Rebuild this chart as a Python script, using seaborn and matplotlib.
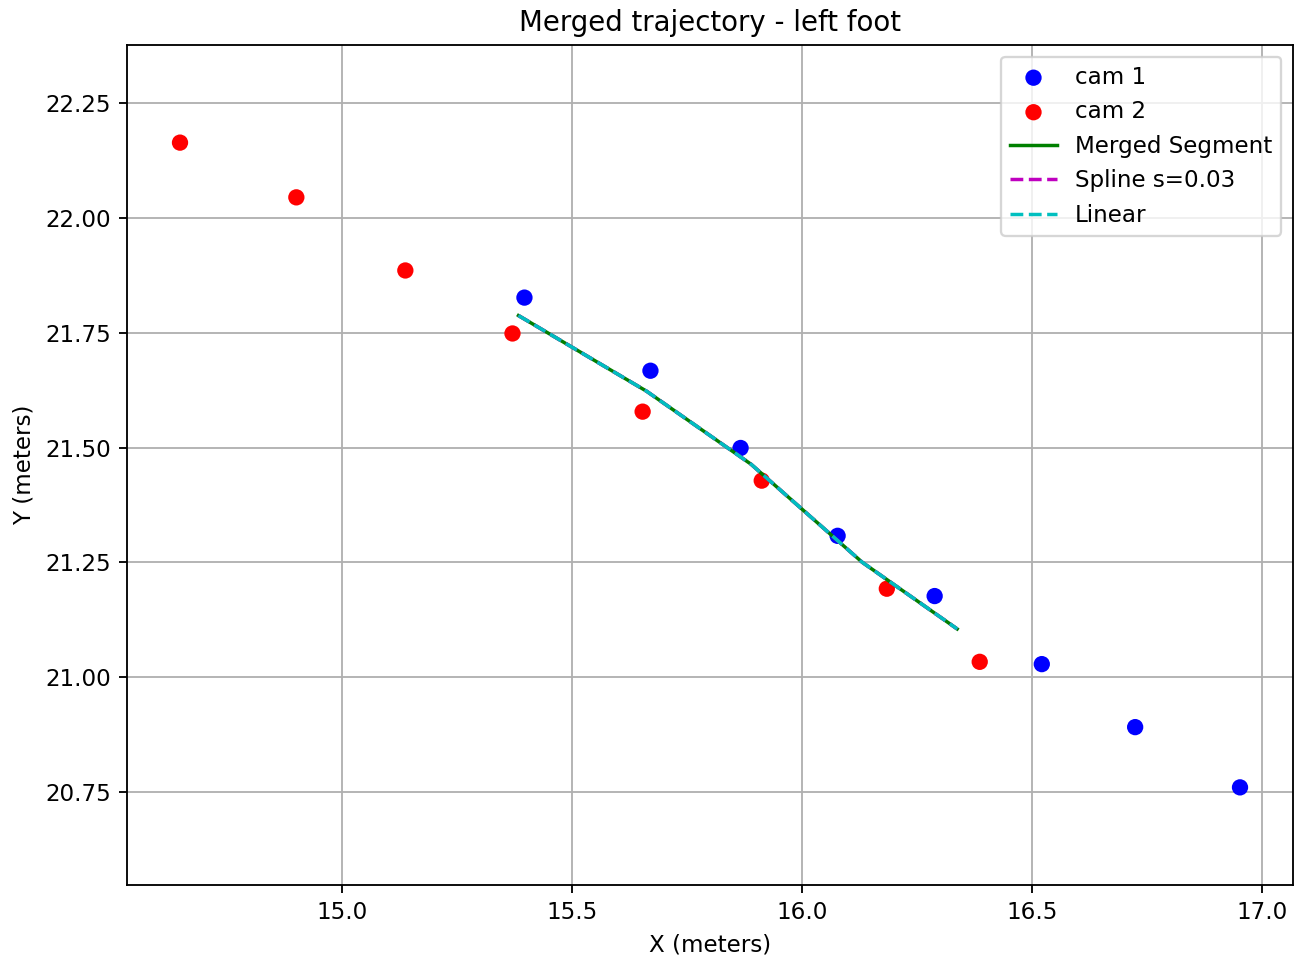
import numpy as np
import pandas as pd
import matplotlib
matplotlib.use("Agg")
import matplotlib.pyplot as plt
import seaborn as sns

# Foot positions seen by each camera (meters)
cam1_x = [15.396, 15.670, 15.866, 16.077, 16.288, 16.521, 16.724, 16.952]
cam1_y = [21.826, 21.667, 21.499, 21.308, 21.177, 21.029, 20.892, 20.761]
cam2_x = [14.647, 14.900, 15.137, 15.370, 15.653, 15.912, 16.184, 16.386]
cam2_y = [22.163, 22.044, 21.885, 21.748, 21.578, 21.428, 21.193, 21.034]

# Overlap: first five cam 1 samples pair with the last five cam 2 samples
merged_x = [(a + b) / 2 for a, b in zip(cam1_x[:5], cam2_x[3:])]
merged_y = [(a + b) / 2 for a, b in zip(cam1_y[:5], cam2_y[3:])]

cam1 = pd.DataFrame({"x": cam1_x, "y": cam1_y})
cam2 = pd.DataFrame({"x": cam2_x, "y": cam2_y})
merged = pd.DataFrame({"x": merged_x, "y": merged_y})

DPI = 166
fig = plt.figure(figsize=(1299 / DPI, 960 / DPI), dpi=DPI)
ax = fig.add_axes([127 / 1299, 1 - 885 / 960, (1293 - 127) / 1299, (885 - 45) / 960])

sns.scatterplot(data=cam1, x="x", y="y", color="b", s=50, edgecolor="none",
                label="cam 1", ax=ax, zorder=3)
sns.scatterplot(data=cam2, x="x", y="y", color="r", s=50, edgecolor="none",
                label="cam 2", ax=ax, zorder=3)
sns.lineplot(data=merged, x="x", y="y", sort=False, color="g", lw=1.5,
             label="Merged Segment", ax=ax, zorder=4)
sns.lineplot(data=merged, x="x", y="y", sort=False, color="m", lw=1.5,
             linestyle="--", label="Spline s=0.03", ax=ax, zorder=5)
sns.lineplot(data=merged, x="x", y="y", sort=False, color="c", lw=1.5,
             linestyle="--", label="Linear", ax=ax, zorder=6)

ax.axis("equal")
ax.set_title("Merged trajectory - left foot", fontsize=12)
ax.set_xlabel("X (meters)")
ax.set_ylabel("Y (meters)")
ax.grid(True)
ax.set_axisbelow(True)
ax.legend(loc="upper right")

fig.savefig("out.png", dpi=DPI)
